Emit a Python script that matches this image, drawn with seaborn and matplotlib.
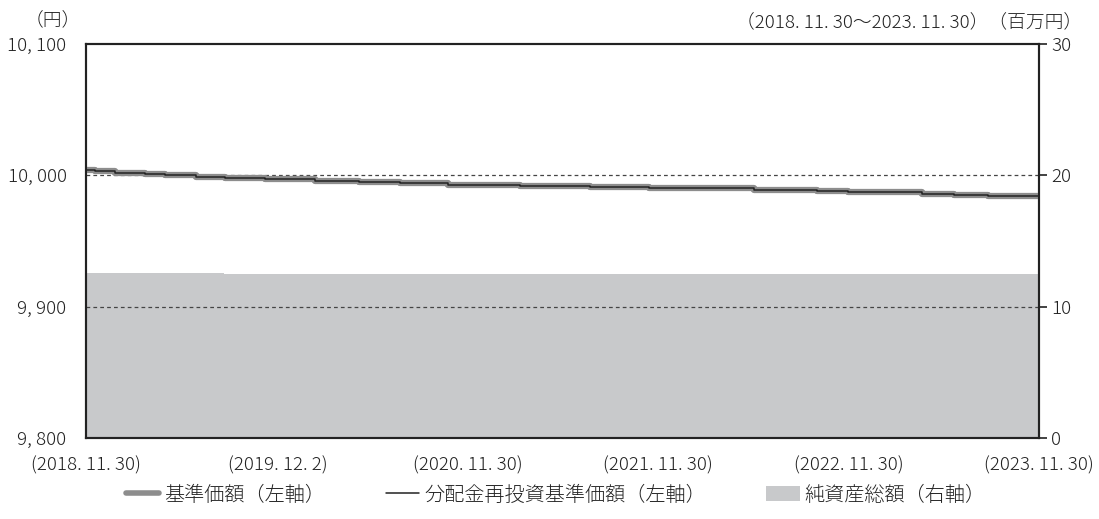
import pandas as pd
import seaborn as sns
import matplotlib.pyplot as plt
from matplotlib.lines import Line2D
from matplotlib.patches import Patch

# step dates of the NAV (both series coincide)
step_dates = ['2018-11-30', '2018-12-17', '2019-01-25', '2019-03-23', '2019-04-30',
              '2019-06-29', '2019-08-23', '2019-11-08', '2020-02-12', '2020-05-06',
              '2020-07-24', '2020-10-24', '2021-03-11', '2021-07-23', '2021-11-13',
              '2022-06-02', '2022-10-01', '2022-11-29', '2023-04-20', '2023-06-20',
              '2023-08-24', '2023-11-30']
nav = [10004, 10003, 10002, 10001, 10000, 9999, 9998, 9997, 9996, 9995, 9994,
       9993, 9992, 9991, 9990, 9989, 9988, 9987, 9986, 9985, 9984, 9984]
nav_reinvest = [10004, 10003, 10002, 10001, 10000, 9999, 9998, 9997, 9996, 9995, 9994,
                9993, 9992, 9991, 9990, 9989, 9988, 9987, 9986, 9985, 9984, 9984]

# net assets (million yen)
asset_dates = ['2018-11-30', '2019-08-20', '2019-08-21', '2023-11-30']
net_assets = [12.55, 12.55, 12.5, 12.5]

tick_dates = ['2018-11-30', '2019-12-02', '2020-11-30', '2021-11-30', '2022-11-30', '2023-11-30']
tick_labels = ['(2018. 11. 30)', '(2019. 12. 2)', '(2020. 11. 30)',
               '(2021. 11. 30)', '(2022. 11. 30)', '(2023. 11. 30)']
left_ticks = [9800, 9900, 10000, 10100]
left_labels = ['9, 800', '9, 900', '10, 000', '10, 100']
right_ticks = [0, 10, 20, 30]

sns.set_style('white')
plt.rcParams['font.family'] = ['Noto Sans CJK JP', 'DejaVu Sans']
plt.rcParams['font.weight'] = 'light'

df = pd.DataFrame({'date': pd.to_datetime(step_dates), 'nav': nav, 'reinv': nav_reinvest})
adf = pd.DataFrame({'date': pd.to_datetime(asset_dates), 'assets': net_assets})

fig = plt.figure(figsize=(10.99, 5.19), dpi=100)
ax = fig.add_axes([0.0783, 0.156, 0.8671, 0.7592])
ax2 = ax.twinx()

ax2.fill_between(adf['date'], 0, adf['assets'], color='#c8c9cb', lw=0, step='post')
ax2.set_ylim(0, 30)
ax2.set_yticks(right_ticks)
ax2.tick_params(axis='y', length=6, width=1.2, pad=3, labelsize=13.5, colors='#222222')

ax.set_zorder(ax2.get_zorder() + 1)
ax.patch.set_visible(False)

sns.lineplot(data=df, x='date', y='nav', ax=ax, color='#8d8d8d', lw=4.5,
             drawstyle='steps-post')
sns.lineplot(data=df, x='date', y='reinv', ax=ax, color='#222222', lw=1.1,
             drawstyle='steps-post')

for v in [9900, 10000]:
    ax.axhline(v, color='#444444', lw=0.9, ls=(0, (3, 2.5)), zorder=0.5)

ax.set_xlim(pd.Timestamp('2018-11-30'), pd.Timestamp('2023-11-30'))
ax.set_ylim(9800, 10100)
ax.set_yticks(left_ticks)
ax.set_yticklabels(left_labels)
ax.set_xticks(pd.to_datetime(tick_dates))
ax.set_xticklabels(tick_labels)
ax.tick_params(axis='y', length=0, pad=14, labelsize=13.5, colors='#222222')
ax.tick_params(axis='x', length=0, pad=13, labelsize=13.5, colors='#222222')
ax.set_xlabel('')
ax.set_ylabel('')
ax2.set_ylabel('')

for a in (ax, ax2):
    for s in a.spines.values():
        s.set_color('#222222')
        s.set_linewidth(1.5)
        s.set_visible(True)

fig.text(53 / 1099, 1 - 20 / 519, '（円）', ha='center', va='center', fontsize=13.5, color='#222222')
fig.text(1082 / 1099, 1 - 22 / 519, '（2018. 11. 30～2023. 11. 30）（百万円）', ha='right',
         va='center', fontsize=13.5, color='#222222')

handles = [Line2D([], [], color='#8d8d8d', lw=4),
           Line2D([], [], color='#222222', lw=1.1),
           Patch(facecolor='#c8c9cb', edgecolor='none')]
labels = ['基準価額（左軸）', '分配金再投資基準価額（左軸）', '純資産総額（右軸）']
fig.legend(handles, labels, loc='center', bbox_to_anchor=(556 / 1099, 1 - 495 / 519),
           ncol=3, frameon=False, fontsize=14.5, handlelength=1.65, handletextpad=0.25,
           columnspacing=3.0, labelcolor='#222222')

fig.savefig('out.png', dpi=100)
